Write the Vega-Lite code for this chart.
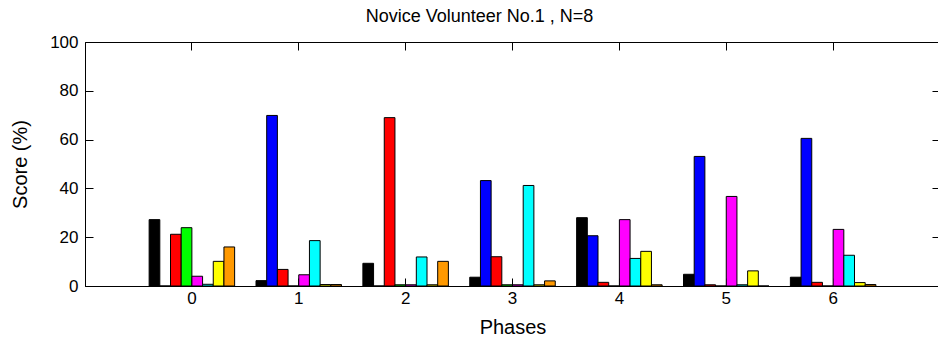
{
  "$schema": "https://vega.github.io/schema/vega-lite/v6.json",
  "autosize": "none",
  "width": 855,
  "height": 244,
  "padding": {"left": 85, "top": 42, "right": 0, "bottom": 61},
  "background": "white",
  "config": {
    "font": "Liberation Sans",
    "view": {"stroke": "black", "strokeWidth": 1},
    "axis": {
      "grid": false,
      "domainColor": "black",
      "tickColor": "black",
      "labelColor": "black",
      "titleColor": "black",
      "labelFont": "Liberation Sans",
      "titleFont": "Liberation Sans",
      "labelFontSize": 17,
      "titleFontSize": 20,
      "titleFontWeight": "normal"
    }
  },
  "title": {
    "text": "Novice Volunteer No.1 , N=8",
    "font": "Liberation Sans",
    "fontSize": 18,
    "fontWeight": "normal",
    "color": "black",
    "anchor": "middle",
    "dx": -33,
    "offset": 7
  },
  "data": {
    "values": [
      {"phase": 0, "item": 1, "score": 27.2},
      {"phase": 0, "item": 2, "score": 0},
      {"phase": 0, "item": 3, "score": 21.2},
      {"phase": 0, "item": 4, "score": 23.9},
      {"phase": 0, "item": 5, "score": 4.0},
      {"phase": 0, "item": 6, "score": 0.7},
      {"phase": 0, "item": 7, "score": 10.1},
      {"phase": 0, "item": 8, "score": 16.0},
      {"phase": 1, "item": 1, "score": 2.2},
      {"phase": 1, "item": 2, "score": 69.9},
      {"phase": 1, "item": 3, "score": 6.8},
      {"phase": 1, "item": 4, "score": 0},
      {"phase": 1, "item": 5, "score": 4.6},
      {"phase": 1, "item": 6, "score": 18.6},
      {"phase": 1, "item": 7, "score": 0.6},
      {"phase": 1, "item": 8, "score": 0.6},
      {"phase": 2, "item": 1, "score": 9.3},
      {"phase": 2, "item": 2, "score": 0},
      {"phase": 2, "item": 3, "score": 69.0},
      {"phase": 2, "item": 4, "score": 0.5},
      {"phase": 2, "item": 5, "score": 0.5},
      {"phase": 2, "item": 6, "score": 11.9},
      {"phase": 2, "item": 7, "score": 0.5},
      {"phase": 2, "item": 8, "score": 10.1},
      {"phase": 3, "item": 1, "score": 3.6},
      {"phase": 3, "item": 2, "score": 43.2},
      {"phase": 3, "item": 3, "score": 12.0},
      {"phase": 3, "item": 4, "score": 0.5},
      {"phase": 3, "item": 5, "score": 0.5},
      {"phase": 3, "item": 6, "score": 41.2},
      {"phase": 3, "item": 7, "score": 0.5},
      {"phase": 3, "item": 8, "score": 2.1},
      {"phase": 4, "item": 1, "score": 28.0},
      {"phase": 4, "item": 2, "score": 20.6},
      {"phase": 4, "item": 3, "score": 1.5},
      {"phase": 4, "item": 4, "score": 0},
      {"phase": 4, "item": 5, "score": 27.2},
      {"phase": 4, "item": 6, "score": 11.3},
      {"phase": 4, "item": 7, "score": 14.2},
      {"phase": 4, "item": 8, "score": 0.5},
      {"phase": 5, "item": 1, "score": 4.8},
      {"phase": 5, "item": 2, "score": 53.1},
      {"phase": 5, "item": 3, "score": 0.5},
      {"phase": 5, "item": 4, "score": 0},
      {"phase": 5, "item": 5, "score": 36.7},
      {"phase": 5, "item": 6, "score": 0.5},
      {"phase": 5, "item": 7, "score": 6.2},
      {"phase": 5, "item": 8, "score": 0},
      {"phase": 6, "item": 1, "score": 3.6},
      {"phase": 6, "item": 2, "score": 60.5},
      {"phase": 6, "item": 3, "score": 1.5},
      {"phase": 6, "item": 4, "score": 0},
      {"phase": 6, "item": 5, "score": 23.2},
      {"phase": 6, "item": 6, "score": 12.6},
      {"phase": 6, "item": 7, "score": 1.4},
      {"phase": 6, "item": 8, "score": 0.6}
    ]
  },
  "layer": [
    {
      "mark": {"type": "bar", "stroke": "black", "strokeWidth": 1},
      "encoding": {
        "x": {
          "field": "phase",
          "type": "ordinal",
          "scale": {"paddingInner": 0.2, "paddingOuter": 0.6},
          "axis": {
            "orient": "bottom",
            "title": "Phases",
            "labelAngle": 0,
            "tickSize": -8,
            "labelPadding": 12,
            "titlePadding": 11
          }
        },
        "xOffset": {
          "field": "item",
          "type": "ordinal",
          "scale": {"paddingInner": 0, "paddingOuter": 0}
        },
        "y": {
          "field": "score",
          "type": "quantitative",
          "scale": {"domain": [0, 100], "nice": false},
          "axis": {
            "orient": "left",
            "title": "Score (%)",
            "values": [0, 20, 40, 60, 80, 100],
            "tickSize": -8,
            "labelPadding": 15,
            "titlePadding": 19
          }
        },
        "color": {
          "field": "item",
          "type": "ordinal",
          "scale": {
            "domain": [1, 2, 3, 4, 5, 6, 7, 8],
            "range": ["#000000", "#0000ff", "#ff0000", "#00ff00", "#ff00ff", "#00ffff", "#ffff00", "#ff9900"]
          },
          "legend": null
        }
      }
    },
    {
      "mark": {"type": "point", "opacity": 0},
      "encoding": {
        "x": {
          "field": "phase",
          "type": "ordinal",
          "axis": {"orient": "top", "title": null, "labels": false, "tickSize": -8, "domain": false}
        },
        "y": {
          "field": "score",
          "type": "quantitative",
          "axis": {"orient": "right", "title": null, "labels": false, "values": [0, 20, 40, 60, 80, 100], "tickSize": -8, "domain": false}
        }
      }
    }
  ],
  "resolve": {"axis": {"x": "independent", "y": "independent"}}
}
